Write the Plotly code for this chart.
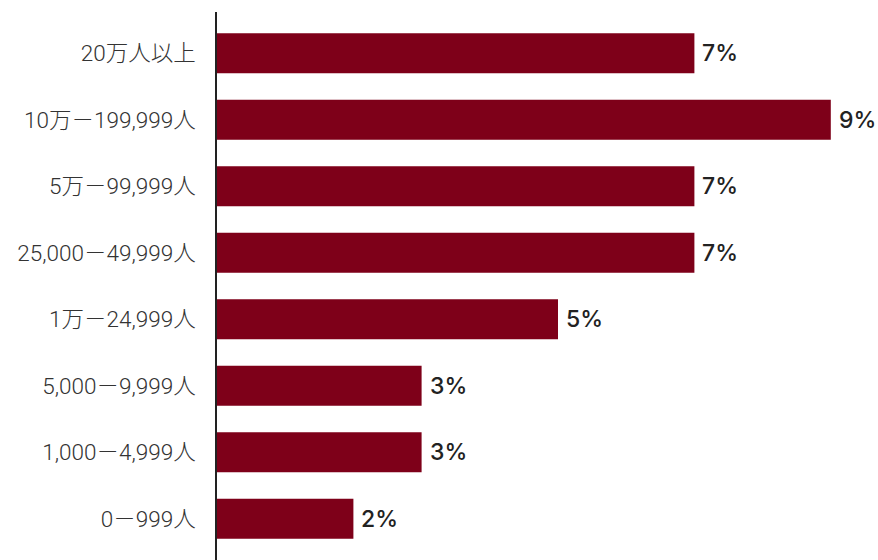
import plotly.graph_objects as go

categories = ["20万人以上", "10万－199,999人", "5万－99,999人", "25,000－49,999人",
              "1万－24,999人", "5,000－9,999人", "1,000－4,999人", "0－999人"]
values = [7, 9, 7, 7, 5, 3, 3, 2]
value_labels = ["7%", "9%", "7%", "7%", "5%", "3%", "3%", "2%"]

BAR = "#7E0019"

fig = go.Figure(go.Bar(
    y=categories, x=values, orientation="h",
    marker=dict(color=BAR, line=dict(width=0)),
    hoverinfo="skip",
))

for c, v, t in zip(categories, values, value_labels):
    fig.add_annotation(x=v, y=c, xref="x", yref="y", text=t, showarrow=False,
                       xanchor="left", yanchor="middle", xshift=6,
                       font=dict(family="Inter", size=23, color="#222222", weight=500))

n = len(categories)
fig.update_layout(
    width=878, height=560,
    margin=dict(l=217, r=0, t=12, b=0),
    paper_bgcolor="white", plot_bgcolor="white",
    bargap=0.4, showlegend=False,
    xaxis=dict(range=[0, 661 / 68.2], visible=False, fixedrange=True),
    yaxis=dict(
        range=[n - 1 + 0.62, -0.62], showgrid=False, zeroline=False,
        showline=True, linecolor="#222222", linewidth=1.5,
        ticks="outside", ticklen=15, tickcolor="rgba(0,0,0,0)",
        tickfont=dict(family="Roboto, Noto Sans CJK JP", size=22.5, color="#333333", weight=300),
        automargin=False,
    ),
)

fig.write_html("out.html")
